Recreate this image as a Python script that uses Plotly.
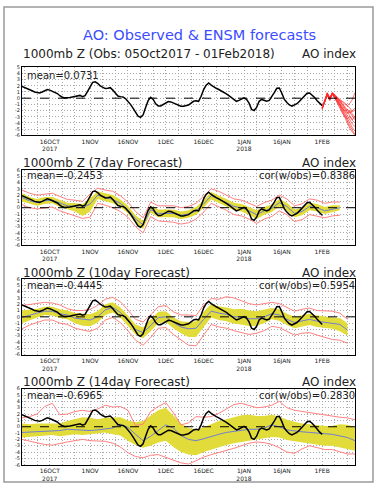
import pandas as pd
import plotly.graph_objects as go

# ---------------- data ----------------
obs_start = "2017-10-05"
obs_values = [
    1.9, 1.75, 1.55, 1.4, 1.2, 1.0, 0.9, 0.85, 1.0, 1.2,
    1.4, 1.3, 1.15, 1.0, 0.75, 0.4, 0.15, 0.05, 0.05, 0.1,
    0.2, 0.3, 0.45, 0.45, 0.25, 0.4, 1.1, 1.9, 2.55, 2.65,
    2.4, 2.0, 1.75, 1.55, 1.6, 1.7, 1.3, 0.8, 0.35, 0.25,
    0.2, -0.05, -0.5, -1.0, -1.6, -2.3, -2.9, -3.1, -2.7, -1.5,
    -0.4, 0.15, -0.2, -0.9, -1.25, -1.25, -1.05, -0.8, -0.55, -0.6,
    -0.8, -1.0, -1.15, -1.3, -1.3, -1.25, -1.1, -0.8, -0.5, -0.4,
    -0.5, 0.3, 1.4, 2.1, 2.45, 2.1, 1.8, 1.6, 1.4, 1.2,
    1.0, 0.7, 0.4, 0.1, -0.2, -0.5, -0.35, -0.15, 0.05, -0.2,
    -0.8, -1.8, -2.0, -1.5, -0.5, -0.2, -0.4, -0.5, -0.35, 0.2,
    0.9, 1.6, 1.65, 0.8, -0.2, -0.7, -1.1, -1.3, -1.15, -0.9,
    -0.5, -0.1, 0.4, 0.8, 0.85, 0.55, 0.1, -0.4, -0.85, -1.2,
]

ens_start = "2018-02-01"
ens_members = [
    [-1.7, -0.6, 0.6, -0.1, 0.8, 0.3, -0.2, -0.8, -1.5, -2.2, -2.8, -3.5, -4.2, -4.6],
    [-1.5, -0.4, 0.8, 0.0, 0.7, 0.1, -0.5, -1.2, -2.0, -2.9, -3.6, -4.5, -5.2, -5.8],
    [-1.6, -0.5, 0.5, -0.3, 0.9, 0.5, 0.2, -0.2, -0.6, -1.0, -1.2, -0.8, -0.2, 0.9],
    [-1.8, -0.7, 0.7, 0.1, 0.6, 0.0, -0.7, -1.6, -2.4, -3.0, -3.3, -3.0, -3.6, -4.0],
    [-1.6, -0.3, 0.6, -0.2, 0.8, 0.4, 0.0, -0.5, -1.2, -1.8, -2.5, -2.0, -2.6, -3.2],
    [-1.7, -0.6, 0.4, -0.4, 0.7, 0.2, -0.3, -1.0, -1.8, -2.6, -3.4, -4.0, -4.8, -5.3],
    [-1.5, -0.5, 0.9, 0.1, 0.9, 0.6, 0.1, -0.3, -0.9, -1.4, -1.9, -2.4, -2.0, -1.6],
    [-1.6, -0.4, 0.6, -0.1, 0.6, 0.1, -0.4, -1.1, -1.6, -2.1, -1.8, -2.3, -2.9, -3.5],
    [-1.7, -0.6, 0.7, 0.0, 0.8, 0.3, -0.1, -0.6, -1.0, -1.6, -2.2, -2.9, -3.5, -2.8],
    [-1.6, -0.5, 0.5, -0.2, 0.7, 0.0, -0.6, -1.3, -2.2, -3.1, -4.0, -4.9, -5.5, -6.0],
    [-1.5, -0.4, 0.8, -0.1, 0.8, 0.4, -0.1, -0.4, -0.5, -0.8, -1.2, -1.6, -2.2, -1.9],
]

# forecasts: values every 3 days from fc_start
fc_start = "2017-10-05"
fc_step_days = 3

fc7_mean = [1.6, 1.1, 0.8, 1.1, 1.2, 0.7, 0.3, 0.2, 0.0, 0.6, 2.0, 1.7, 1.3, 0.7, -0.3,
            -1.8, -2.7, -0.3, -0.9, -0.9, -0.9, -1.2, -1.0, -0.5, 0.6, 1.9, 1.4, 0.8, 0.2,
            0.0, -0.5, -1.1, -0.5, -0.1, 0.8, 0.2, -0.9, -0.6, 0.2, 0.0, -0.5, -0.2, 0.0]
fc7_band_lo = [1.0, 0.6, 0.3, 0.6, 0.7, 0.1, -0.3, -0.6, -1.3, -0.6, 1.4, 1.0, 0.7, 0.1, -0.9,
               -2.4, -3.4, -0.8, -1.5, -1.5, -1.5, -1.8, -1.6, -1.1, 0.0, 1.3, 0.8, 0.2, -0.4,
               -0.6, -1.1, -1.8, -1.1, -0.7, 0.2, -0.4, -1.5, -1.2, -0.4, -0.6, -1.0, -0.7, -0.4]
fc7_band_hi = [2.3, 1.7, 1.4, 1.7, 1.7, 1.2, 0.8, 0.7, 0.6, 1.5, 2.6, 2.3, 2.0, 1.3, 0.3,
               -1.2, -2.1, 0.3, -0.3, -0.3, -0.3, -0.6, -0.4, 0.1, 1.2, 2.5, 2.0, 1.4, 0.8,
               0.6, 0.1, -0.4, 0.1, 0.5, 1.4, 0.8, -0.3, 0.0, 0.8, 0.6, 0.1, 0.4, 0.4]
fc7_red_lo = [0.5, 0.0, -0.2, 0.0, 0.1, -0.5, -0.9, -1.2, -1.7, -1.5, 0.7, 0.4, 0.0, -0.6, -1.5,
              -3.0, -4.0, -1.4, -2.1, -2.2, -2.3, -2.6, -2.4, -1.8, -0.7, 0.7, 0.2, -0.4, -1.1,
              -1.3, -1.8, -2.5, -1.8, -1.4, -0.5, -1.1, -2.2, -1.9, -1.1, -1.3, -1.6, -1.3, -1.2]
fc7_red_hi = [2.8, 2.3, 2.0, 2.2, 2.3, 1.8, 1.3, 1.2, 1.0, 2.2, 3.1, 2.8, 2.6, 1.9, 0.9,
              -0.6, -1.6, 0.9, 0.3, 0.3, 0.3, 0.0, 0.2, 0.7, 1.8, 3.0, 2.6, 2.0, 1.4,
              1.2, 0.7, 0.2, 0.8, 1.2, 2.0, 1.4, 0.3, 0.6, 1.4, 1.2, 0.7, 0.9, 0.9]

fc10_mean = [-0.1, 0.3, 0.6, 0.9, 0.9, 0.5, 0.3, -0.2, -0.4, -0.5, 0.0, 1.1, 1.5, 0.7, -0.6,
             -2.0, -2.5, -1.4, -0.1, 0.0, -0.9, -1.6, -1.9, -1.8, -0.4, 0.9, 0.6, 0.4, 0.0,
             0.0, -0.3, -0.3, 0.0, 0.5, 0.3, -0.4, -0.9, -0.6, -0.4, -0.7, -0.9, -1.0, -1.2, -2.1]
fc10_band_lo = [-1.0, -0.5, -0.1, 0.3, 0.2, -0.2, -0.4, -1.0, -1.4, -1.5, -0.9, 0.3, 0.7, -0.1, -1.4,
                -2.8, -3.4, -2.3, -1.0, -0.8, -1.8, -2.6, -3.2, -3.2, -1.6, -0.1, -0.5, -0.7, -1.1,
                -1.2, -1.5, -1.4, -1.0, -0.4, -0.6, -1.3, -1.8, -1.5, -1.3, -1.6, -1.8, -1.9, -2.3, -3.0]
fc10_band_hi = [1.0, 1.1, 1.3, 1.6, 1.6, 1.2, 1.0, 0.6, 0.5, 0.4, 0.9, 2.0, 2.3, 1.5, 0.2,
                -1.2, -1.7, -0.5, 0.8, 0.9, -0.1, -0.7, -0.8, -0.7, 0.8, 2.1, 1.7, 1.5, 1.2,
                1.3, 1.0, 0.9, 1.1, 1.4, 1.2, 0.5, 0.0, 0.3, 0.5, 0.2, 0.0, -0.1, -0.2, -1.0]
fc10_red_lo = [-1.9, -1.3, -0.9, -0.5, -0.5, -1.0, -1.2, -1.8, -2.1, -2.3, -1.8, -0.5, -0.1, -0.9, -2.2,
               -3.7, -4.5, -3.3, -1.8, -1.7, -2.8, -3.6, -4.5, -4.6, -2.8, -1.2, -1.6, -1.8, -2.2,
               -2.5, -2.8, -2.6, -2.2, -1.5, -1.7, -2.3, -2.9, -2.6, -2.5, -2.9, -3.3, -3.6, -3.7, -4.2]
fc10_red_hi = [1.8, 2.0, 2.2, 2.3, 2.2, 1.9, 1.3, 1.0, 1.0, 1.2, 1.8, 2.8, 3.1, 2.4, 1.1,
               -0.4, -0.8, 0.3, 1.6, 1.8, 0.8, 0.3, 0.3, 0.2, 1.9, 2.9, 2.8, 3.2, 3.0,
               2.5, 2.1, 1.9, 2.1, 2.3, 2.1, 1.5, 0.9, 1.2, 1.4, 1.0, 0.9, 0.9, 0.6, -0.4]

fc14_mean = [-0.9, -0.85, -0.8, -0.7, -0.6, -0.6, -0.4, -0.5, -0.6, -0.6, -0.5, -0.3, -0.2, 0.4, -0.1,
             -1.2, -2.2, -1.5, -0.6, 0.3, -0.2, -1.4, -2.0, -2.2, -1.9, -1.5, -1.2, -0.9, -0.7,
             -0.5, -0.4, -0.4, -0.2, 0.3, 0.0, -0.5, -0.7, -0.8, -0.9, -0.95, -1.1, -1.2, -1.5, -1.7, -2.2]
fc14_band_lo = [-1.7, -1.6, -1.6, -1.4, -1.3, -1.5, -1.3, -1.2, -1.3, -1.2, -1.0, -0.9, -1.2, -1.4, -2.2,
                -2.9, -3.3, -3.0, -2.5, -2.2, -3.2, -4.0, -4.4, -4.5, -4.0, -3.6, -3.3, -2.9, -2.6,
                -2.4, -2.3, -2.0, -1.8, -1.6, -1.7, -2.1, -2.3, -2.5, -2.6, -2.8, -3.0, -3.0, -3.3, -3.6, -3.8]
fc14_band_hi = [0.5, 0.4, 0.5, 0.5, 0.6, 0.5, 0.9, 1.2, 1.5, 1.4, 1.2, 1.4, 1.5, 1.5, 1.0,
                0.7, 0.9, 1.8, 2.6, 3.0, 1.8, 0.5, -0.2, -0.4, -0.1, 0.4, 0.9, 1.2, 1.5,
                1.8, 1.9, 1.7, 1.7, 1.9, 1.6, 1.1, 0.8, 0.5, 0.4, 0.2, 0.1, 0.1, 0.4, 0.3, -0.1]
fc14_red_lo = [-2.0, -2.3, -2.6, -2.8, -2.9, -2.6, -2.4, -2.2, -2.0, -2.2, -2.3, -2.3, -2.6, -3.2, -4.1,
               -4.7, -4.9, -4.5, -4.4, -4.8, -5.3, -5.7, -5.9, -5.3, -4.8, -4.4, -4.1, -3.7, -3.4,
               -3.0, -2.6, -2.4, -2.5, -2.8, -3.3, -4.0, -4.2, -3.5, -3.0, -3.3, -3.6, -3.6, -4.0, -4.3, -4.3]
fc14_red_hi = [1.4, 1.6, 2.0, 3.2, 3.7, 1.9, 2.0, 2.4, 2.6, 2.4, 2.8, 3.4, 3.1, 3.2, 2.6,
               0.2, 0.4, 2.4, 3.2, 3.8, 2.2, 0.3, 0.6, 1.6, 1.5, 1.6, 2.1, 2.8, 3.5,
               3.7, 3.3, 3.0, 3.1, 3.4, 4.0, 3.0, 2.6, 2.4, 2.2, 2.0, 1.8, 1.6, 1.5, 1.4, 1.1]

panel_titles = ["1000mb Z (Obs: 05Oct2017 - 01Feb2018)", "1000mb Z (7day Forecast)",
                "1000mb Z (10day Forecast)", "1000mb Z (14day Forecast)"]
panel_means = ["mean=0.0731", "mean=-0.2453", "mean=-0.4445", "mean=-0.6965"]
panel_cors = [None, "cor(w/obs)=0.8386", "cor(w/obs)=0.5954", "cor(w/obs)=0.2830"]
right_label = "AO index"
main_title = "AO: Observed & ENSM forecasts"

x_tick_labels = {
    "2017-10-16": "16OCT<br>2017", "2017-11-01": "1NOV", "2017-11-16": "16NOV",
    "2017-12-01": "1DEC", "2017-12-16": "16DEC", "2018-01-01": "1JAN<br>2018",
    "2018-01-16": "16JAN", "2018-02-01": "1FEB",
}
grid_days = [1, 6, 11, 16, 21, 26]
x_range = ["2017-10-05", "2018-02-14"]

# ---------------- figure ----------------
W, H = 378, 489
FONT = "DejaVu Sans"

obs_dates = pd.date_range(obs_start, periods=len(obs_values), freq="D")
ens_dates = pd.date_range(ens_start, periods=len(ens_members[0]), freq="D")

def fc_dates(n):
    return pd.date_range(fc_start, periods=n, freq=f"{fc_step_days}D")

all_days = pd.date_range(x_range[0], x_range[1], freq="D")
grid_dates = [d for d in all_days if d.day in grid_days]
tickvals = [d.strftime("%Y-%m-%d") for d in grid_dates]
ticktext = [x_tick_labels.get(t, "") for t in tickvals]

# panel boxes in pixels (top, bottom)
boxes = [(65, 134), (169, 245.5), (279.5, 356), (390.5, 467.5)]
yranges = [[-6, 5], [-6, 6], [-6, 6], [-6, 6]]
X0, X1 = 22, 355

fig = go.Figure()
layout = dict(
    width=W, height=H, margin=dict(l=0, r=0, t=0, b=0),
    paper_bgcolor="white", plot_bgcolor="white", showlegend=False,
    font=dict(family=FONT, color="#222222"),
)

GRID = "#a8a8a8"
for i, (top, bot) in enumerate(boxes):
    n = "" if i == 0 else str(i + 1)
    layout["xaxis" + n] = dict(
        domain=[X0 / W, X1 / W], range=x_range, type="date",
        tickvals=tickvals, ticktext=ticktext, tickangle=0,
        tickfont=dict(size=6, family=FONT, color="#222"),
        showgrid=True, gridcolor=GRID, griddash="1px,2px", gridwidth=1,
        showline=True, linecolor="black", linewidth=1, mirror=True,
        ticks="", zeroline=False, anchor="y" + n, fixedrange=True,
    )
    layout["yaxis" + n] = dict(
        domain=[1 - bot / H, 1 - top / H], range=yranges[i],
        tickvals=list(range(-6, 7)), ticktext=[str(v) for v in range(-6, 7)],
        tickfont=dict(size=5, family=FONT, color="#222"),
        showgrid=True, gridcolor=GRID, griddash="1px,2px", gridwidth=1,
        showline=True, linecolor="black", linewidth=1, mirror=True,
        ticks="", zeroline=False, anchor="x" + n, fixedrange=True,
    )

YELLOW = "#e2dc3a"
BLUE = "#707dd2"
PINK = "#ff8080"

# panel 1
fig.add_trace(go.Scatter(x=obs_dates, y=obs_values, mode="lines",
                         line=dict(color="black", width=1.5), xaxis="x", yaxis="y"))
for m in ens_members:
    fig.add_trace(go.Scatter(x=ens_dates, y=m, mode="lines",
                             line=dict(color="rgba(255,40,40,0.85)", width=0.8),
                             xaxis="x", yaxis="y"))

forecasts = [
    (fc7_mean, fc7_band_lo, fc7_band_hi, fc7_red_lo, fc7_red_hi),
    (fc10_mean, fc10_band_lo, fc10_band_hi, fc10_red_lo, fc10_red_hi),
    (fc14_mean, fc14_band_lo, fc14_band_hi, fc14_red_lo, fc14_red_hi),
]
for k, (mean, lo, hi, rlo, rhi) in enumerate(forecasts):
    ax = str(k + 2)
    d = fc_dates(len(mean))
    fig.add_trace(go.Scatter(x=d, y=lo, mode="lines", line=dict(width=0, color=YELLOW),
                             xaxis="x" + ax, yaxis="y" + ax))
    fig.add_trace(go.Scatter(x=d, y=hi, mode="lines", line=dict(width=0, color=YELLOW),
                             fill="tonexty", fillcolor=YELLOW, xaxis="x" + ax, yaxis="y" + ax))
    for r in (rlo, rhi):
        fig.add_trace(go.Scatter(x=d, y=r, mode="lines", line=dict(color=PINK, width=1),
                                 xaxis="x" + ax, yaxis="y" + ax))
    fig.add_trace(go.Scatter(x=d, y=mean, mode="lines", line=dict(color=BLUE, width=1),
                             xaxis="x" + ax, yaxis="y" + ax))
    fig.add_trace(go.Scatter(x=obs_dates, y=obs_values, mode="lines",
                             line=dict(color="black", width=1.5),
                             xaxis="x" + ax, yaxis="y" + ax))

shapes = [dict(type="rect", xref="paper", yref="paper", x0=4 / W, x1=373 / W,
               y0=1 - 485 / H, y1=1 - 4 / H, line=dict(color="#9a9a9a", width=1.5))]
annotations = [dict(text=main_title, xref="paper", yref="paper", x=199 / W, y=1 - 32 / H,
                    xanchor="center", yanchor="middle", showarrow=False,
                    font=dict(size=14.5, color="#3c4cff", family=FONT))]
sub_y = [52, 162, 273, 384]
stat_y = [73, 175, 286, 397.5]
for i in range(4):
    n = "" if i == 0 else str(i + 1)
    shapes.append(dict(type="line", xref="x" + n + " domain", yref="y" + n, x0=0, x1=1,
                       y0=0, y1=0, line=dict(color="black", width=1, dash="dash")))
    annotations.append(dict(text=panel_titles[i], xref="paper", yref="paper", x=21 / W,
                            y=1 - sub_y[i] / H, xanchor="left", yanchor="middle",
                            showarrow=False, font=dict(size=12, color="#222")))
    annotations.append(dict(text=right_label, xref="paper", yref="paper", x=358 / W,
                            y=1 - sub_y[i] / H, xanchor="right", yanchor="middle",
                            showarrow=False, font=dict(size=12, color="#222")))
    annotations.append(dict(text=panel_means[i], xref="paper", yref="paper", x=25 / W,
                            y=1 - stat_y[i] / H, xanchor="left", yanchor="middle",
                            showarrow=False, font=dict(size=10, color="#222")))
    if panel_cors[i]:
        annotations.append(dict(text=panel_cors[i], xref="paper", yref="paper", x=357 / W,
                                y=1 - stat_y[i] / H, xanchor="right", yanchor="middle",
                                showarrow=False, font=dict(size=10, color="#222")))

layout["shapes"] = shapes
layout["annotations"] = annotations
fig.update_layout(**layout)
fig.write_html("out.html", config={"displayModeBar": False},
               post_script="document.body.style.margin='0';")
